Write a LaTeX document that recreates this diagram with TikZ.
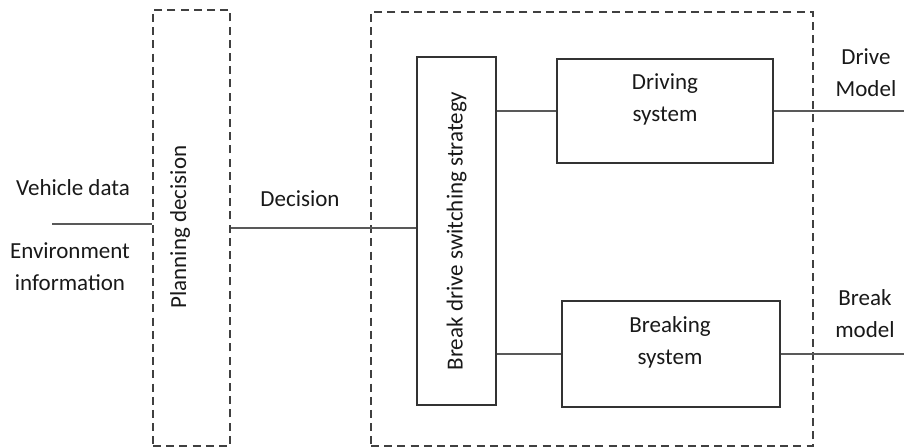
\documentclass[tikz,border=0pt]{standalone}
\usepackage{fontspec}
\setmainfont{Carlito}
\usepackage{tikz}
\usetikzlibrary{positioning}
\usetikzlibrary{calc}

\tikzset{
	dashbox/.style={draw=black!75,line width=1.3pt,dash pattern=on 4pt off 2.6pt,minimum width=#1},
	sysbox/.style={draw=black!80,line width=1pt},
	conn/.style={draw=black!65,line width=0.7pt},
	txt/.style={text=black!90,font=\fontsize{11.5}{16}\selectfont,align=center,inner sep=0pt}
}

\begin{document}
\begin{tikzpicture}[x=0.5pt,y=-0.5pt]
\useasboundingbox (0,0) rectangle (904,448);

\node[dashbox=38.5pt,minimum height=218pt] (plan) at (191.5,228) {};
\node[dashbox=221pt,minimum height=217pt] (ctrl) at (592,229) {};

\node[sysbox,minimum width=39.5pt,minimum height=174pt,txt] (strat) at (456.5,231) {\rotatebox{90}{Break drive switching strategy}};
\node[sysbox,minimum width=108pt,minimum height=52pt] (drv) at (665,111) {};
\node[sysbox,minimum width=109pt,minimum height=53pt] (brk) at (671,354) {};

\node[txt,rotate=90] (planlbl) at (180,227) {Planning decision};
\node[txt] (drvlbl) at (665,99) {Driving\\system};
\node[txt] (brklbl) at (670,342) {Breaking\\system};

\node[txt] (vdata) at (73,188) {Vehicle data};
\node[txt] (envinfo) at (70,267) {Environment\\information};
\node[txt] (dec) at (300,199) {Decision};
\node[txt] (drvmod) at (866,73) {Drive\\Model};
\node[txt] (brkmod) at (865,314) {Break\\model};

\coordinate (in) at (52,224);
\coordinate (rim) at (904,0);

\draw[conn] (in) -- (in -| plan.west);
\draw[conn] (plan.east) -- (plan.east -| strat.west);
\draw[conn] (drv.west -| strat.east) -- (drv.west);
\draw[conn] (brk.west -| strat.east) -- (brk.west);
\draw[conn] (drv.east) -- (drv.east -| rim);
\draw[conn] (brk.east) -- (brk.east -| rim);
\end{tikzpicture}
\end{document}
